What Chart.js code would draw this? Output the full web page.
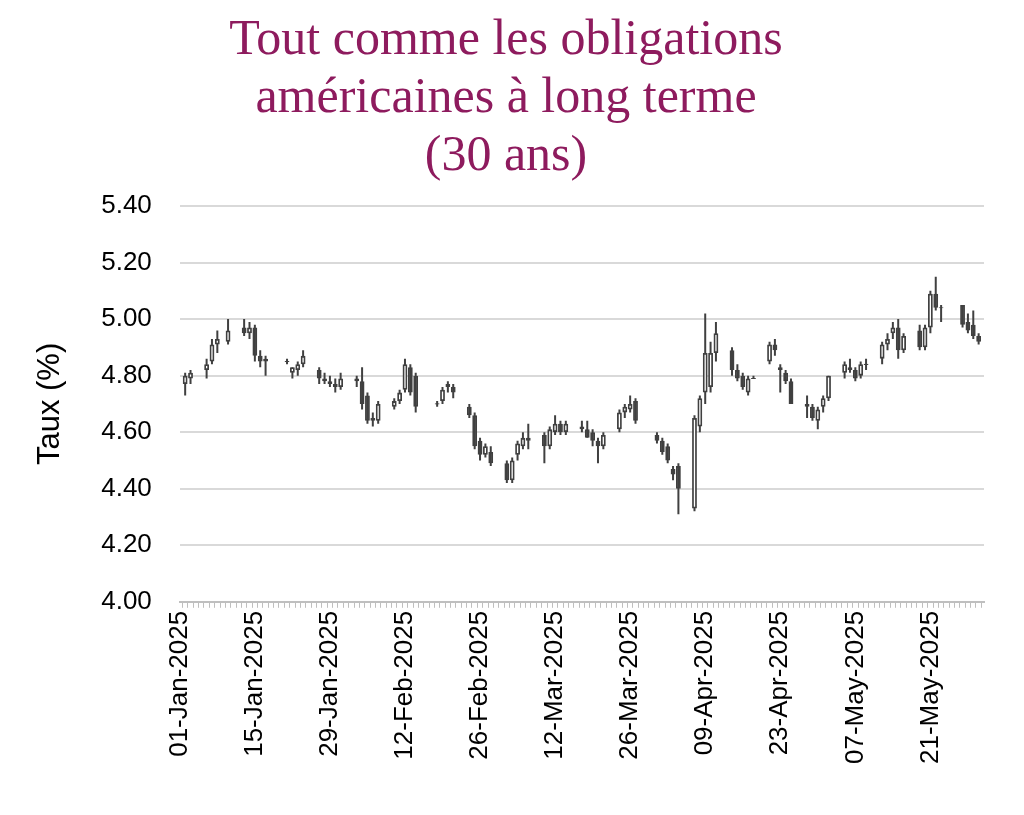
<!DOCTYPE html>
<html><head><meta charset="utf-8">
<script src="https://cdn.jsdelivr.net/npm/chart.js@4/dist/chart.umd.min.js"></script>
<style>html,body{margin:0;padding:0;background:#fff}#wrap{width:1024px;height:815px}</style>
</head><body><div id="wrap"><canvas id="c"></canvas></div>
<script>
const tradeDays = ["01-02","01-03","01-06","01-07","01-08","01-10","01-13","01-14","01-15","01-16","01-17","01-21","01-22","01-23","01-24","01-27","01-28","01-29","01-30","01-31","02-03","02-04","02-05","02-06","02-07","02-10","02-11","02-12","02-13","02-14","02-18","02-19","02-20","02-21","02-24","02-25","02-26","02-27","02-28","03-03","03-04","03-05","03-06","03-07","03-10","03-11","03-12","03-13","03-14","03-17","03-18","03-19","03-20","03-21","03-24","03-25","03-26","03-27","03-31","04-01","04-02","04-03","04-04","04-07","04-08","04-09","04-10","04-11","04-14","04-15","04-16","04-17","04-18","04-21","04-22","04-23","04-24","04-25","04-28","04-29","04-30","05-01","05-02","05-05","05-06","05-07","05-08","05-09","05-12","05-13","05-14","05-15","05-16","05-19","05-20","05-21","05-22","05-23","05-27","05-28","05-29","05-30"];
const openV = [4.77,4.79,4.82,4.85,4.91,4.92,4.97,4.95,4.97,4.87,4.86,4.85,4.81,4.82,4.84,4.82,4.79,4.78,4.77,4.76,4.79,4.78,4.73,4.65,4.64,4.69,4.71,4.75,4.83,4.80,4.70,4.71,4.77,4.76,4.69,4.66,4.57,4.52,4.53,4.49,4.43,4.52,4.55,4.57,4.59,4.55,4.60,4.63,4.60,4.61,4.61,4.60,4.57,4.55,4.61,4.67,4.68,4.71,4.59,4.57,4.55,4.47,4.48,4.33,4.62,4.74,4.76,4.88,4.89,4.82,4.80,4.74,4.79,4.85,4.91,4.83,4.81,4.78,4.70,4.69,4.64,4.69,4.72,4.81,4.83,4.82,4.80,4.84,4.86,4.91,4.95,4.97,4.89,4.96,4.90,4.97,5.09,5.04,5.05,4.99,4.98,4.94];
const highV = [4.81,4.82,4.86,4.93,4.96,5.00,5.00,4.99,4.98,4.89,4.87,4.86,4.83,4.85,4.89,4.83,4.81,4.80,4.79,4.81,4.80,4.83,4.74,4.67,4.71,4.72,4.75,4.86,4.84,4.81,4.71,4.76,4.78,4.77,4.70,4.67,4.58,4.56,4.55,4.50,4.51,4.57,4.60,4.63,4.60,4.62,4.66,4.64,4.64,4.64,4.64,4.61,4.58,4.60,4.68,4.70,4.73,4.72,4.60,4.58,4.56,4.48,4.49,4.66,4.73,5.02,4.92,4.99,4.90,4.84,4.81,4.80,4.80,4.92,4.93,4.84,4.82,4.79,4.73,4.70,4.69,4.73,4.80,4.85,4.86,4.83,4.85,4.86,4.92,4.95,4.99,5.00,4.95,4.98,4.98,5.10,5.15,5.05,5.05,5.02,5.03,4.95];
const lowV = [4.73,4.77,4.79,4.84,4.88,4.91,4.94,4.93,4.85,4.83,4.80,4.84,4.79,4.80,4.83,4.77,4.77,4.76,4.74,4.75,4.76,4.68,4.63,4.62,4.63,4.68,4.70,4.74,4.73,4.67,4.69,4.70,4.74,4.72,4.65,4.54,4.50,4.51,4.48,4.42,4.42,4.50,4.54,4.54,4.49,4.54,4.59,4.59,4.59,4.60,4.58,4.55,4.49,4.54,4.60,4.65,4.67,4.63,4.56,4.52,4.49,4.43,4.31,4.32,4.60,4.70,4.74,4.85,4.80,4.78,4.75,4.73,4.79,4.84,4.87,4.74,4.77,4.70,4.65,4.64,4.61,4.67,4.71,4.79,4.81,4.78,4.79,4.82,4.84,4.89,4.93,4.86,4.88,4.89,4.89,4.95,5.03,4.99,4.97,4.95,4.93,4.91];
const closeV = [4.80,4.81,4.84,4.91,4.93,4.96,4.95,4.97,4.87,4.85,4.85,4.85,4.83,4.84,4.87,4.79,4.78,4.77,4.76,4.79,4.78,4.70,4.64,4.64,4.70,4.71,4.74,4.84,4.74,4.69,4.70,4.75,4.76,4.74,4.66,4.55,4.52,4.55,4.49,4.43,4.50,4.56,4.58,4.58,4.55,4.61,4.63,4.60,4.63,4.62,4.58,4.57,4.55,4.59,4.67,4.69,4.70,4.64,4.57,4.53,4.50,4.45,4.40,4.65,4.72,4.88,4.88,4.95,4.82,4.79,4.76,4.79,4.79,4.91,4.89,4.82,4.78,4.70,4.69,4.65,4.68,4.72,4.80,4.84,4.82,4.79,4.84,4.84,4.91,4.93,4.97,4.89,4.94,4.90,4.97,5.09,5.04,5.04,4.98,4.96,4.94,4.92];
const yTicks = [4.00,4.20,4.40,4.60,4.80,5.00,5.20,5.40];
const titleLines = ["Tout comme les obligations","américaines à long terme","(30 ans)"];
const months = ["Jan","Feb","Mar","Apr","May","Jun"];

const cats = [], keys = [];
for (let d = new Date(Date.UTC(2025,0,1)); d <= new Date(Date.UTC(2025,4,31)); d.setUTCDate(d.getUTCDate()+1)) {
  const dd = String(d.getUTCDate()).padStart(2,"0"), mm = String(d.getUTCMonth()+1).padStart(2,"0");
  cats.push(dd+"-"+months[d.getUTCMonth()]+"-2025"); keys.push(mm+"-"+dd);
}
const bodies = [], wicks = [], fills = [];
keys.forEach(k => {
  const i = tradeDays.indexOf(k);
  if (i < 0) { bodies.push(null); wicks.push(null); fills.push("#fff"); return; }
  const o = openV[i], c = closeV[i];
  let lo = Math.min(o,c), hi = Math.max(o,c);
  if (hi - lo < 0.004) { lo -= 0.002; hi += 0.002; }
  bodies.push([lo,hi]); wicks.push([lowV[i],highV[i]]);
  fills.push(c >= o ? "#ffffff" : "#404040");
});
const dark = "#404040";
new Chart(document.getElementById("c"), {
  type: "bar",
  data: { labels: cats, datasets: [
    { data: bodies, backgroundColor: fills, borderColor: dark, borderWidth: 1.8, borderSkipped: false,
      barPercentage: 0.9, categoryPercentage: 1, grouped: false, order: 1 },
    { data: wicks, backgroundColor: dark, borderWidth: 0, maxBarThickness: 2,
      grouped: false, order: 2 }
  ]},
  options: {
    responsive: true, maintainAspectRatio: false, animation: false,
    layout: { padding: { left: 28, right: 40, top: 0, bottom: 48 } },
    plugins: {
      legend: { display: false }, tooltip: { enabled: false },
      title: { display: true, text: titleLines, color: "#8e1b5e",
        font: { family: "'Liberation Serif', serif", size: 50, weight: "normal", lineHeight: 1.16 },
        padding: { top: 12, bottom: 20 } }
    },
    scales: {
      y: { min: 4.0, max: 5.4, afterBuildTicks: ax => { ax.ticks = yTicks.map(v => ({ value: v })); },
        ticks: { color: "#000", font: { family: "'Liberation Sans', Arial", size: 26 }, padding: 28,
          callback: v => Number(v).toFixed(2) },
        grid: { color: "#d9d9d9", lineWidth: 2, drawTicks: false }, border: { display: false },
        title: { display: true, text: "Taux (%)", color: "#000", font: { family: "'Liberation Sans', Arial", size: 31 } } },
      x: { offset: false, grid: { display: true, drawOnChartArea: false, color: "#bfbfbf", tickLength: 6 },
        border: { color: "#bfbfbf", width: 2 },
        ticks: { autoSkip: false, maxRotation: 90, minRotation: 90, color: "#000",
          font: { family: "'Liberation Sans', Arial", size: 26 },
          callback: (v, i) => i % 14 === 0 ? cats[i] : "" } }
    }
  }
});
</script></body></html>
